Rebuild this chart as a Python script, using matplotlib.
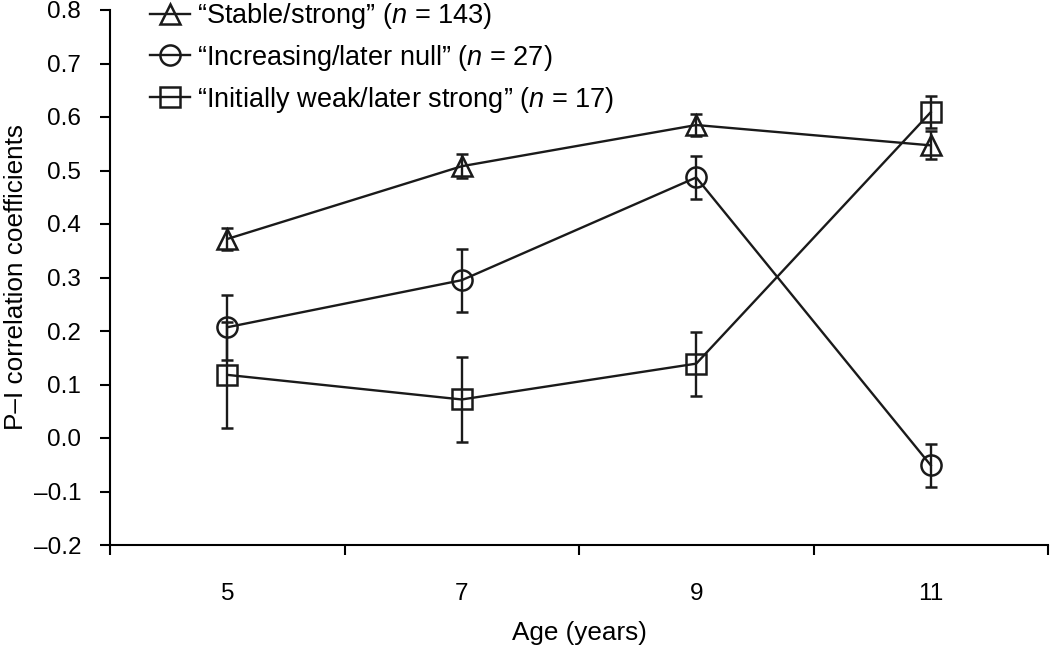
import matplotlib
matplotlib.use("Agg")
import matplotlib.pyplot as plt
from matplotlib.lines import Line2D
import numpy as np

plt.rcParams['font.family'] = ['Liberation Sans', 'DejaVu Sans']
plt.rcParams['mathtext.fontset'] = 'custom'
plt.rcParams['mathtext.it'] = 'Liberation Sans:italic'
plt.rcParams['mathtext.rm'] = 'Liberation Sans'

ages = ['5', '7', '9', '11']
series_labels = ['\u201cStable/strong\u201d ($n$ = 143)',
                 '\u201cIncreasing/later null\u201d ($n$ = 27)',
                 '\u201cInitially weak/later strong\u201d ($n$ = 17)']
stable = [0.372, 0.508, 0.585, 0.547]
stable_err = [0.021, 0.022, 0.020, 0.026]
increasing = [0.207, 0.295, 0.487, -0.051]
increasing_err = [0.061, 0.059, 0.040, 0.040]
weak = [0.118, 0.072, 0.139, 0.609]
weak_err = [0.099, 0.080, 0.060, 0.030]
markers = ['^', 'o', 's']
msizes = [15, 14.5, 14]
col = '#1a1a1a'

fig = plt.figure(figsize=(10.5, 6.53), dpi=100)
ax = fig.add_axes([110 / 1050, 1 - 545 / 653, (1048 - 110) / 1050, (545 - 10) / 653])
x = np.arange(len(ages))
handles = []
for vals, errs, m, lab, ms in zip([stable, increasing, weak],
                                  [stable_err, increasing_err, weak_err],
                                  markers, series_labels, msizes):
    ax.errorbar(x, vals, yerr=errs, color=col, lw=1.7, marker=m,
                markersize=ms, markerfacecolor='none', markeredgewidth=1.8,
                capsize=4.5, capthick=1.7, elinewidth=1.7)
    handles.append(Line2D([], [], color=col, lw=1.7, marker=m, markersize=ms,
                          markerfacecolor='none', markeredgewidth=1.8, label=lab))

ax.set_xlim(-0.5, 3.5)
ax.set_ylim(-0.2, 0.8)
yt = np.arange(-0.2, 0.81, 0.1)
ax.set_yticks(yt)
ax.set_yticklabels([('\u2013%.1f' % abs(v)) if v < -1e-9 else '%.1f' % abs(v) for v in yt])
ax.set_xticks(x)
ax.set_xticklabels(ages)
ax.set_xticks(np.arange(-0.5, 3.6, 1.0), minor=True)
ax.tick_params(axis='x', which='major', length=0, pad=27, labelsize=17.5)
ax.tick_params(axis='x', which='minor', length=7.5, width=1.5, direction='out')
ax.tick_params(axis='y', length=7.2, width=1.5, direction='out', labelsize=17.5, pad=13.5)
for s in ['top', 'right']:
    ax.spines[s].set_visible(False)
for s in ['left', 'bottom']:
    ax.spines[s].set_linewidth(1.5)
ax.set_xlabel('Age (years)', fontsize=18.8, labelpad=12)
ax.set_ylabel('P\u2013I correlation coefficients', fontsize=18.8, labelpad=4)

leg = ax.legend(handles=handles, loc='upper left', frameon=False, fontsize=19.5,
                bbox_to_anchor=(150 / 1050, 1 - 1 / 653), bbox_transform=fig.transFigure,
                handlelength=1.48, labelspacing=0.44, handletextpad=0.26,
                borderpad=0, borderaxespad=0)
fig.savefig('out.png', dpi=100)
